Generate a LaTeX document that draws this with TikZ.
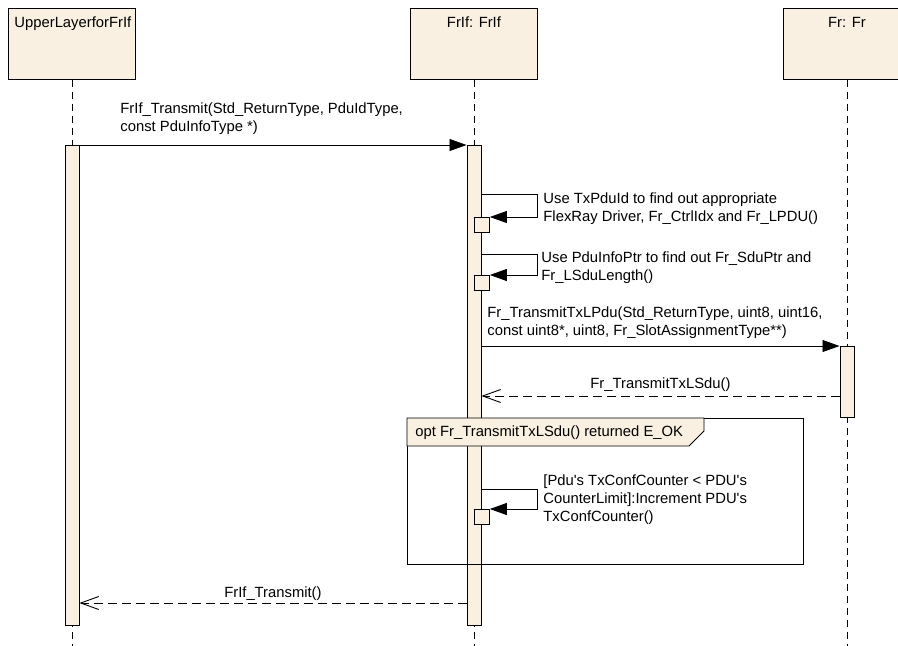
\documentclass[tikz,border=0pt]{standalone}
\usepackage{fontspec}
\setmainfont{Liberation Sans}
\usetikzlibrary{arrows.meta}
\definecolor{lifefill}{RGB}{250,240,226}

\begin{document}
\begin{tikzpicture}[x=1pt,y=-1pt,line width=0.9pt,
        every node/.style={font=\fontsize{14.8}{18}\selectfont},
        head/.style={draw,fill=lifefill,minimum width=127pt,minimum height=71pt,inner sep=0pt,anchor=north west},
        bar/.style={draw,fill=lifefill,minimum width=14pt,inner sep=0pt,anchor=north},
        nest/.style={draw,fill=lifefill,minimum size=15pt,inner sep=0pt,anchor=north west},
        lifeline/.style={dash pattern=on 7pt off 5pt},
        call/.style={-{Triangle[length=17pt,width=12pt]}},
        reply/.style={dash pattern=on 9pt off 5pt,-{Straight Barb[length=18pt,width=13pt]}},
        msg/.style={inner sep=0pt,align=left,anchor=base west},
        rmsg/.style={midway,inner sep=0pt,anchor=base,yshift=8pt}]
    \useasboundingbox (0,0) rectangle (898,646);

    \foreach \n/\x in {1/8,2/410,3/783} {
        \node[head] (head_\n) at (\x,8) {};
        \draw[lifeline] (head_\n.south) -- (head_\n.south |- 0,646);
    }
    \node[anchor=base west,inner sep=0pt] (name_1) at (14,27) {UpperLayerforFrIf};
    \node[anchor=base,inner sep=0pt] (name_2) at (head_2.north |- 0,27) {FrIf: FrIf};
    \node[anchor=base,inner sep=0pt] (name_3) at (head_3.north |- 0,27) {Fr: Fr};

    \node[bar,minimum height=480pt] (act_1) at (head_1.south |- 0,145) {};
    \node[bar,minimum height=480pt] (act_2) at (head_2.south |- 0,145) {};
    \node[bar,minimum height=71pt] (act_3) at (head_3.south |- 0,346) {};

    \node[draw,inner sep=0pt,anchor=north west,minimum width=396pt,minimum height=146pt] (opt_frame) at (407,418) {};
    \filldraw[fill=lifefill] (opt_frame.north west) -- ++(297,0) -- ++(0,13) -- ++(-15,15) -- (opt_frame.west |- 0,446) -- cycle;
    \node[anchor=base west,inner sep=0pt] (opt_label) at (415,436) {opt Fr\_TransmitTxLSdu() returned E\_OK};

    \draw[call] (act_1.north east) -- (act_2.north west);
    \node[msg] (msg_1) at (120,131) {FrIf\_Transmit(Std\_ReturnType, PduIdType,\\const PduInfoType *)};

    \node[nest] (sub_1) at (act_2.center |- 0,217) {};
    \draw[call] (act_2.east |- 0,194) -- ++(56,0) |- (sub_1.north east);
    \node[msg] (msg_2) at (543,221) {Use TxPduId to find out appropriate\\FlexRay Driver, Fr\_CtrlIdx and Fr\_LPDU()};

    \node[nest] (sub_2) at (act_2.center |- 0,275) {};
    \draw[call] (act_2.east |- 0,254) -- ++(56,0) |- (sub_2.north east);
    \node[msg] (msg_3) at (541,280) {Use PduInfoPtr to find out Fr\_SduPtr and\\Fr\_LSduLength()};

    \draw[call] (act_2.east |- act_3.north) -- (act_3.north west);
    \node[msg] (msg_4) at (487,335) {Fr\_TransmitTxLPdu(Std\_ReturnType, uint8, uint16,\\const uint8*, uint8, Fr\_SlotAssignmentType**)};

    \draw[reply] (act_3.west |- 0,396) -- node[rmsg] (ret_1) {Fr\_TransmitTxLSdu()} (act_2.east |- 0,396);

    \node[nest] (sub_3) at (act_2.center |- 0,509) {};
    \draw[call] (act_2.east |- 0,489) -- ++(56,0) |- (sub_3.north east);
    \node[msg] (msg_5) at (543,521) {[Pdu\textquotesingle s TxConfCounter < PDU\textquotesingle s\\CounterLimit]:Increment PDU\textquotesingle s\\TxConfCounter()};

    \draw[reply] (act_2.west |- 0,603) -- node[rmsg,yshift=-2pt] (ret_2) {FrIf\_Transmit()} (act_1.east |- 0,603);
\end{tikzpicture}
\end{document}
